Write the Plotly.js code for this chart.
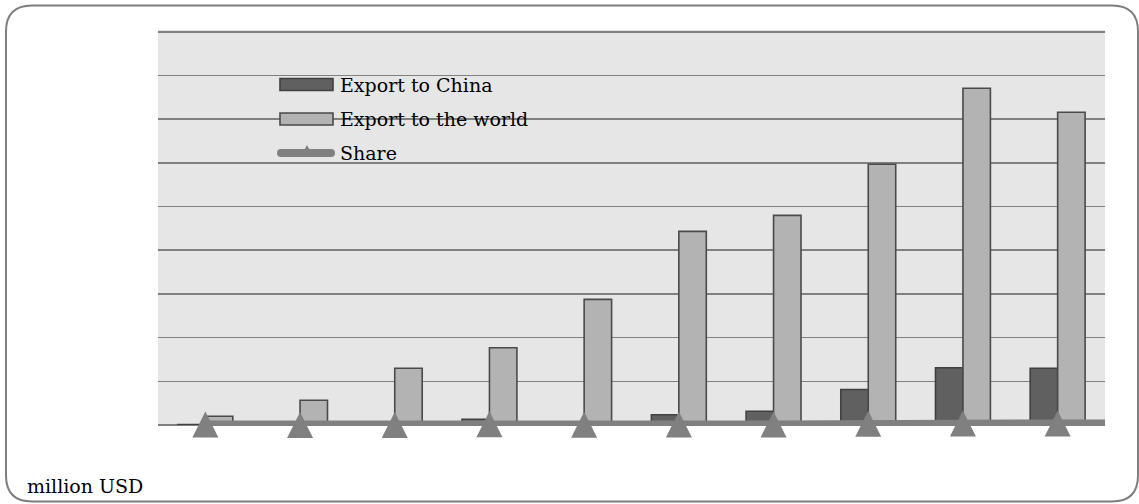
<!DOCTYPE html>
<html>
<head>
<meta charset="utf-8">
<script src="https://cdn.plot.ly/plotly-3.0.1.min.js"></script>
<style>html,body{margin:0;padding:0;background:#fff;}#chart{width:1139px;height:504px;}</style>
</head>
<body>
<div id="chart"></div>
<script>
// ---- data (y units: million USD) ----
const categories = ['2004', '2005', '2006', '2007', '2008', '2009', '2010', '2011', '2012', '2013'];
const exportChina = [5, 2, 2, 65, 30, 117, 158, 406, 655, 650];
const exportWorld = [100, 284, 650, 884, 1437, 2216, 2399, 2983, 3853, 3578];
const sharePct = [5.0, 0.7, 0.3, 7.4, 2.1, 5.3, 6.6, 13.6, 17.0, 18.2];
const seriesNames = ['Export to China', 'Export to the world', 'Share'];
const unitLabel = 'million USD';

// ---- layout geometry helpers (pixel -> paper) ----
const M = {l: 158, r: 34, t: 30, b: 79};
const W = 1139 - M.l - M.r, H = 504 - M.t - M.b;
const px = p => (p - M.l) / W;
const py = p => (M.t + H - p) / H;

const FONT = 'DejaVu Serif, Liberation Serif, serif';
const GRID = '#808080';
const SHARE_COL = '#808080';

const traces = [
  {
    type: 'bar', name: seriesNames[0], x: categories, y: exportChina,
    marker: {color: '#606060', line: {color: '#404040', width: 1.6}},
    hoverinfo: 'x+y+name'
  },
  {
    type: 'bar', name: seriesNames[1], x: categories, y: exportWorld,
    marker: {color: '#b3b3b3', line: {color: '#4a4a4a', width: 1.6}},
    hoverinfo: 'x+y+name'
  },
  {
    type: 'scatter', mode: 'lines+markers', name: seriesNames[2], x: categories, y: sharePct,
    line: {color: SHARE_COL, width: 8},
    marker: {symbol: 'arrow-down', angle: 180, standoff: 13, size: 26, color: SHARE_COL},
    cliponaxis: false,
    hoverinfo: 'x+y+name'
  }
];

// rounded border around whole figure
function roundRect(x0, y0, x1, y1, r) {
  const X = px, Y = py;
  return 'M' + X(x0 + r) + ',' + Y(y0) +
    ' L' + X(x1 - r) + ',' + Y(y0) +
    ' Q' + X(x1) + ',' + Y(y0) + ' ' + X(x1) + ',' + Y(y0 + r) +
    ' L' + X(x1) + ',' + Y(y1 - r) +
    ' Q' + X(x1) + ',' + Y(y1) + ' ' + X(x1 - r) + ',' + Y(y1) +
    ' L' + X(x0 + r) + ',' + Y(y1) +
    ' Q' + X(x0) + ',' + Y(y1) + ' ' + X(x0) + ',' + Y(y1 - r) +
    ' L' + X(x0) + ',' + Y(y0 + r) +
    ' Q' + X(x0) + ',' + Y(y0) + ' ' + X(x0 + r) + ',' + Y(y0) + ' Z';
}

const shapes = [
  {type: 'path', xref: 'paper', yref: 'paper', path: roundRect(6, 5.5, 1138, 501.5, 26),
   line: {color: '#7f7f7f', width: 2}, layer: 'below'},
  // legend swatches
  {type: 'rect', xref: 'paper', yref: 'paper', x0: px(280), x1: px(333), y0: py(90.5), y1: py(78.5),
   fillcolor: '#606060', line: {color: '#404040', width: 1.6}, layer: 'above'},
  {type: 'rect', xref: 'paper', yref: 'paper', x0: px(280), x1: px(333), y0: py(125), y1: py(113),
   fillcolor: '#b3b3b3', line: {color: '#4a4a4a', width: 1.6}, layer: 'above'},
  {type: 'line', xref: 'paper', yref: 'paper', x0: px(281), x1: px(331), y0: py(153), y1: py(153),
   line: {color: SHARE_COL, width: 8}, layer: 'above'},
  {type: 'circle', xref: 'paper', yref: 'paper', xsizemode: 'pixel', ysizemode: 'pixel',
   xanchor: px(281), yanchor: py(153), x0: -4, x1: 4, y0: -4, y1: 4,
   fillcolor: SHARE_COL, line: {width: 0}, layer: 'above'},
  {type: 'circle', xref: 'paper', yref: 'paper', xsizemode: 'pixel', ysizemode: 'pixel',
   xanchor: px(331), yanchor: py(153), x0: -4, x1: 4, y0: -4, y1: 4,
   fillcolor: SHARE_COL, line: {width: 0}, layer: 'above'},
  {type: 'path', xref: 'paper', yref: 'paper',
   path: 'M' + px(301) + ',' + py(156) + ' L' + px(313) + ',' + py(156) + ' L' + px(307) + ',' + py(145) + ' Z',
   fillcolor: SHARE_COL, line: {width: 0}, layer: 'above'},
  // share line continues to the right edge of the plot
  {type: 'line', xref: 'x', yref: 'y', x0: categories.length - 1, x1: categories.length - 0.5,
   y0: sharePct[sharePct.length - 1], y1: sharePct[sharePct.length - 1],
   line: {color: SHARE_COL, width: 8}, layer: 'above'}
];

const TXT = {family: FONT, size: 19, color: '#000'};
const annotations = [
  {xref: 'paper', yref: 'paper', x: px(338), y: py(85), xanchor: 'left', yanchor: 'middle',
   text: seriesNames[0], showarrow: false, font: TXT},
  {xref: 'paper', yref: 'paper', x: px(338), y: py(119), xanchor: 'left', yanchor: 'middle',
   text: seriesNames[1], showarrow: false, font: TXT},
  {xref: 'paper', yref: 'paper', x: px(338), y: py(153), xanchor: 'left', yanchor: 'middle',
   text: seriesNames[2], showarrow: false, font: TXT},
  {xref: 'paper', yref: 'paper', x: px(25), y: py(486), xanchor: 'left', yanchor: 'middle',
   text: unitLabel, showarrow: false, font: TXT}
];

const layout = {
  width: 1139, height: 504,
  margin: M,
  paper_bgcolor: '#ffffff',
  plot_bgcolor: '#e6e6e6',
  showlegend: false,
  barmode: 'group',
  bargap: 0.42,
  bargroupgap: 0,
  font: TXT,
  xaxis: {type: 'category', showticklabels: false, ticks: '', showgrid: false, showline: false,
          zeroline: false, range: [-0.5, categories.length - 0.5], fixedrange: true},
  yaxis: {range: [0, 4520], dtick: 500, tick0: 0, showticklabels: false, ticks: '',
          showgrid: true, gridcolor: GRID, gridwidth: 1.5,
          zeroline: true, zerolinecolor: GRID, zerolinewidth: 1.5, showline: false, fixedrange: true},
  shapes: shapes,
  annotations: annotations
};

Plotly.newPlot('chart', traces, layout, {displayModeBar: false, staticPlot: true});
</script>
</body>
</html>
